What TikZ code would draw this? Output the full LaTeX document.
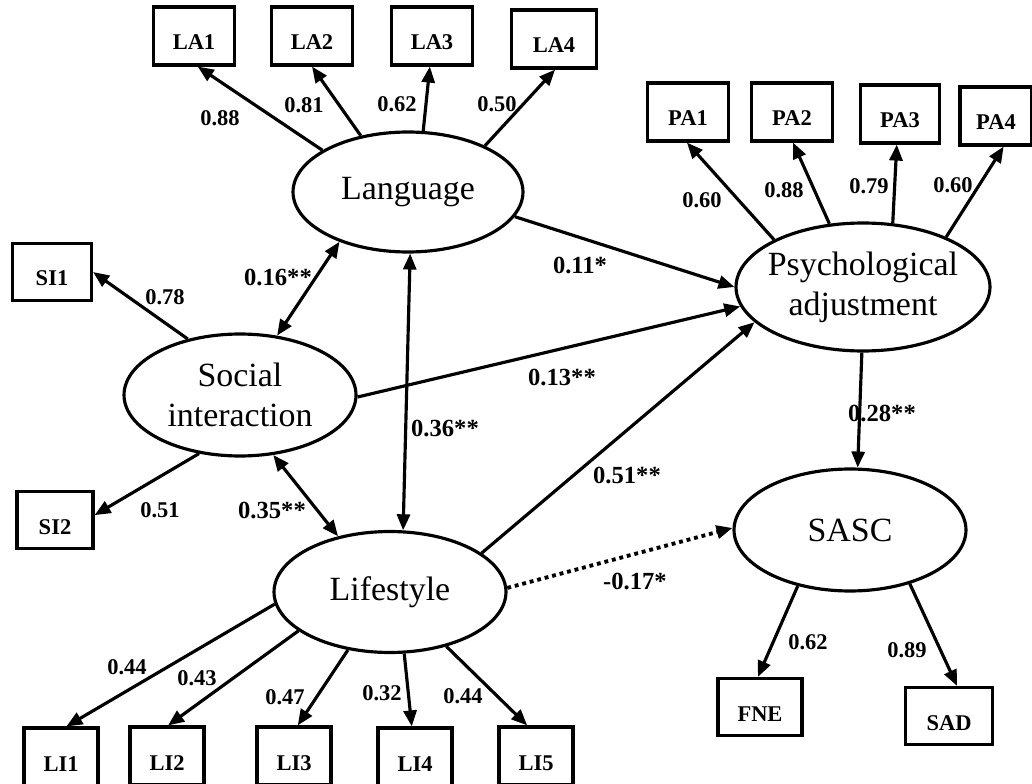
\documentclass[tikz,border=0pt]{standalone}
\usepackage{fontspec}
\setmainfont{Liberation Serif}
\usetikzlibrary{shapes.geometric,arrows.meta}

\tikzset{
  latent/.style={ellipse, draw, line width=1.8pt, inner sep=0pt, align=center,
    font=\fontsize{19.3}{22.7}\selectfont},
  item/.style={draw, line width=1.8pt, inner sep=0pt, minimum width=1.62cm,
    minimum height=1.16cm, text height=0.56cm, text depth=0pt,
    font=\bfseries\fontsize{12.8}{14}\selectfont},
  load/.style={inner sep=0pt, font=\bfseries\fontsize{12.8}{14}\selectfont},
  coef/.style={inner sep=0pt, font=\bfseries\fontsize{14}{16}\selectfont},
  arr/.style={-{Triangle[length=0.32cm,width=0.26cm]}, line width=1.8pt},
  both/.style={{Triangle[length=0.32cm,width=0.26cm]}-{Triangle[length=0.32cm,width=0.26cm]},
    line width=1.8pt},
}

\begin{document}
\begin{tikzpicture}[x=0.02cm,y=-0.02cm]
  \useasboundingbox (0,0) rectangle (1032,784);
  % latent variables
  \node[latent, minimum width=4.6cm, minimum height=2.4cm] (lang) at (408,192) {Language};
  \node[latent, minimum width=4.64cm, minimum height=2.44cm] (soc) at (240,395) {Social\\interaction};
  \node[latent, minimum width=4.64cm, minimum height=2.42cm] (life) at (390,592) {Lifestyle};
  \node[latent, minimum width=5.08cm, minimum height=2.56cm] (psy) at (863,287)
    {\makebox[3.4cm]{Psychological}\\adjustment};
  \node[latent, minimum width=4.64cm, minimum height=2.44cm] (sasc) at (850,530) {SASC};
  % indicators
  \node[item] (la1) at (194,36) {LA1};
  \node[item] (la2) at (312,36) {LA2};
  \node[item] (la3) at (432,36) {LA3};
  \node[item, minimum width=1.7cm] (la4) at (554,39) {LA4};
  \node[item] (pa1) at (688,112) {PA1};
  \node[item] (pa2) at (792,112) {PA2};
  \node[item, minimum width=1.58cm] (pa3) at (900,114) {PA3};
  \node[item, minimum width=1.44cm] (pa4) at (996,116) {PA4};
  \node[item, minimum width=1.58cm, minimum height=1.14cm] (si1) at (52,272) {SI1};
  \node[item, minimum width=1.52cm, minimum height=1.14cm] (si2) at (55,520) {SI2};
  \node[item, minimum width=1.48cm] (li1) at (61,757) {LI1};
  \node[item, minimum width=1.48cm] (li2) at (167,756) {LI2};
  \node[item, minimum width=1.48cm] (li3) at (294,756) {LI3};
  \node[item, minimum width=1.48cm] (li4) at (415,757) {LI4};
  \node[item, minimum width=1.48cm] (li5) at (536,756) {LI5};
  \node[item, minimum width=1.68cm, minimum height=1.14cm] (fne) at (760,707) {FNE};
  \node[item, minimum width=1.74cm, minimum height=1.14cm] (sad) at (949,716) {SAD};
  % loadings
  \draw[arr] (lang.154) -- (la1.-83);
  \draw[arr] (lang.130) -- (la2.south);
  \draw[arr] (lang.76) -- (la3.-94);
  \draw[arr] (lang.31) -- (la4.-88);
  \draw[arr] (psy.152) -- (pa1.-92);
  \draw[arr] (psy.118) -- (pa2.-88);
  \draw[arr] (psy.65) -- (pa3.-96);
  \draw[arr] (psy.31) -- (pa4.-76);
  \draw[arr] (soc.133) -- (si1.east);
  \draw[arr] (soc.235) -- (si2.7);
  \draw[arr] (life.186) -- (li1.80);
  \draw[arr] (life.203) -- (li2.88);
  \draw[arr] (life.234) -- (li3.83);
  \draw[arr] (life.283) -- (li4.96);
  \draw[arr] (life.316) -- (li5.106);
  \draw[arr] (sasc.227) -- (fne.94);
  \draw[arr] (sasc.318) -- (sad.75);
  % structural paths
  \draw[arr] (lang.-13) -- (psy.west);
  \draw[arr] (soc.-1) -- (psy.189);
  \draw[arr] (life.23) -- (psy.198);
  \draw[arr, line width=2.2pt, dash pattern=on 2.2pt off 2.2pt] (life.2) -- (sasc.179);
  \draw[arr] (psy.269) -- (sasc.83);
  \draw[both] (lang.216) -- (soc.58);
  \draw[both] (lang.272) -- (life.78);
  \draw[both] (soc.299) -- (life.133);
  % labels
  \node[load] (n1) at (220,118) {0.88};
  \node[load] (n2) at (304,105) {0.81};
  \node[load] (n3) at (397,104) {0.62};
  \node[load] (n4) at (497,104) {0.50};
  \node[load] (n5) at (702,200) {0.60};
  \node[load] (n6) at (784,190) {0.88};
  \node[load] (n7) at (869,186) {0.79};
  \node[load] (n8) at (953,185) {0.60};
  \node[load] (n9) at (165,297) {0.78};
  \node[load] (n10) at (160,510) {0.51};
  \node[load] (n11) at (127,667) {0.44};
  \node[load] (n12) at (197,678) {0.43};
  \node[load] (n13) at (285,697) {0.47};
  \node[load] (n14) at (382,693) {0.32};
  \node[load] (n15) at (463,696) {0.44};
  \node[load] (n16) at (808,642) {0.62};
  \node[load] (n17) at (907,650) {0.89};
  \node[coef] (c1) at (278,277) {0.16**};
  \node[coef] (c2) at (445,428) {0.36**};
  \node[coef] (c3) at (272,510) {0.35**};
  \node[coef] (c4) at (580,265) {0.11*};
  \node[coef] (c5) at (562,377) {0.13**};
  \node[coef] (c6) at (627,475) {0.51**};
  \node[coef] (c7) at (635,581) {-0.17*};
  \node[coef] (c8) at (882,413) {0.28**};
\end{tikzpicture}
\end{document}
